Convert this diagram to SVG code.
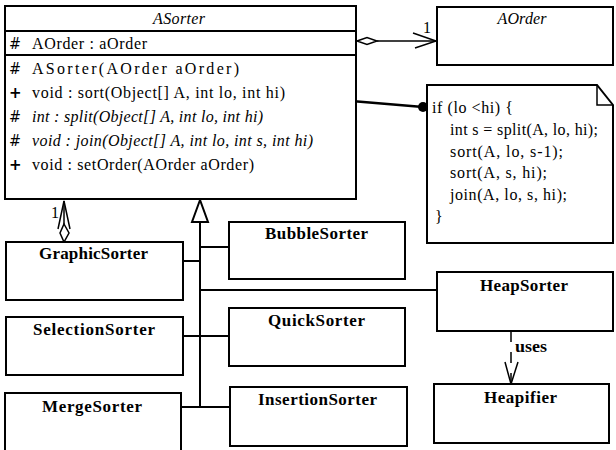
<svg xmlns="http://www.w3.org/2000/svg" width="616" height="450" viewBox="0 0 616 450">
  <style>
    .box { fill: #fff; stroke: #000; stroke-width: 2; }
    .ln { fill: none; stroke: #000; stroke-width: 2; }
    .thin { fill: none; stroke: #000; stroke-width: 1.5; }
    text { font-family: 'Liberation Serif', 'Times New Roman', Times, serif; fill: #000; }
    .m { font-size: 16px; }
    .it { font-style: italic; }
    .sym { font-family: 'DejaVu Sans', sans-serif; font-size: 15px; }
    .cn { font-size: 17px; font-weight: bold; text-anchor: middle; }
  </style>

  <!-- connectors -->
  <g id="connectors">
    <!-- ASorter aggregates AOrder -->
    <line class="thin" x1="377" y1="41" x2="436" y2="41"/>
    <polygon class="thin" points="357,41 367,37.5 377,41 367,44.5" fill="#fff"/>
    <polyline class="thin" points="413,33 436,41 415,48"/>
    <text class="m" x="423" y="33" font-size="13">1</text>

    <!-- GraphicSorter aggregates ASorter -->
    <line class="thin" x1="64" y1="201" x2="64" y2="224"/>
    <polyline class="thin" points="58,229 64,201 70,229"/>
    <polygon class="thin" points="64,224 69,233 64,242 60,233" fill="#fff"/>
    <text class="m" x="51" y="218" font-size="13">1</text>

    <!-- generalization tree -->
    <polygon class="ln" points="200,200 192,222 208,222" fill="#fff"/>
    <line class="ln" x1="200" y1="222" x2="200" y2="407"/>
    <line class="ln" x1="200" y1="247" x2="229" y2="247"/>
    <line class="ln" x1="183" y1="261" x2="200" y2="261"/>
    <line class="ln" x1="200" y1="290" x2="437" y2="290"/>
    <line class="ln" x1="183" y1="336" x2="229" y2="336"/>
    <line class="ln" x1="181" y1="407" x2="230" y2="407"/>

    <!-- note attachment -->
    <line x1="292" y1="96" x2="423" y2="107" stroke="#000" stroke-width="2.5"/>
    <circle cx="292" cy="96" r="5"/>
    <circle cx="423" cy="107" r="5"/>

    <!-- HeapSorter uses Heapifier -->
    <line class="thin" x1="511" y1="331" x2="511" y2="383" stroke-dasharray="11 10"/>
    <polyline class="thin" points="505,362 511,384 518,362"/>
    <text x="515" y="352" font-size="16" font-weight="bold" textLength="32" lengthAdjust="spacingAndGlyphs">uses</text>
  </g>

  <!-- abstract sorter class -->
  <g id="ASorter">
    <rect class="box" x="5" y="6" width="351" height="193"/>
    <line class="ln" x1="5" y1="31" x2="356" y2="31"/>
    <line class="ln" x1="5" y1="55" x2="356" y2="55"/>
    <text class="m it" x="179" y="24" text-anchor="middle" textLength="52">ASorter</text>

    <text class="sym" x="9" y="49" textLength="12" lengthAdjust="spacingAndGlyphs">#</text>
    <text class="m" x="32" y="49" textLength="115">AOrder : aOrder</text>

    <text class="sym" x="9" y="74" textLength="12" lengthAdjust="spacingAndGlyphs">#</text>
    <text class="m" x="32" y="74" textLength="207">ASorter(AOrder aOrder)</text>

    <text class="sym" x="9" y="98" font-weight="bold">+</text>
    <text class="m" x="32" y="98" textLength="253">void : sort(Object[] A, int lo, int hi)</text>

    <text class="sym" x="9" y="122" textLength="12" lengthAdjust="spacingAndGlyphs">#</text>
    <text class="m it" x="32" y="122" textLength="231">int : split(Object[] A, int lo, int hi)</text>

    <text class="sym" x="9" y="146" textLength="12" lengthAdjust="spacingAndGlyphs">#</text>
    <text class="m it" x="32" y="146" textLength="281">void : join(Object[] A, int lo, int s, int hi)</text>

    <text class="sym" x="9" y="170" font-weight="bold">+</text>
    <text class="m" x="32" y="170" textLength="222">void : setOrder(AOrder aOrder)</text>
  </g>

  <g id="AOrder">
    <rect class="box" x="437" y="7" width="176" height="58"/>
    <text class="m it" x="522" y="24" text-anchor="middle" textLength="49">AOrder</text>
  </g>

  <!-- note with sort() body -->
  <g id="note">
    <path class="box" d="M427,85 H597 L613,105 V243 H427 Z"/>
    <path class="thin" d="M597,85 V105 H613"/>
    <text class="m" x="432" y="113" textLength="81">if (lo &lt;hi) {</text>
    <text class="m" x="450" y="135" textLength="148">int s = split(A, lo, hi);</text>
    <text class="m" x="450" y="157" textLength="113">sort(A, lo, s-1);</text>
    <text class="m" x="450" y="178" textLength="97">sort(A, s, hi);</text>
    <text class="m" x="450" y="200" textLength="117">join(A, lo, s, hi);</text>
    <text class="m" x="435" y="222">}</text>
  </g>

  <g id="GraphicSorter">
    <rect class="box" x="6" y="242" width="177" height="58"/>
    <text class="cn" x="93.5" y="259" textLength="109">GraphicSorter</text>
  </g>

  <g id="SelectionSorter">
    <rect class="box" x="6" y="317" width="177" height="58"/>
    <text class="cn" x="94" y="335" textLength="122">SelectionSorter</text>
  </g>

  <g id="MergeSorter">
    <rect class="box" x="5" y="393" width="176" height="70"/>
    <text class="cn" x="92" y="412" textLength="100">MergeSorter</text>
  </g>

  <g id="BubbleSorter">
    <rect class="box" x="229" y="222" width="176" height="57"/>
    <text class="cn" x="316.5" y="239" textLength="103">BubbleSorter</text>
  </g>

  <g id="QuickSorter">
    <rect class="box" x="229" y="308" width="176" height="58"/>
    <text class="cn" x="316.5" y="326" textLength="97">QuickSorter</text>
  </g>

  <g id="InsertionSorter">
    <rect class="box" x="230" y="387" width="177" height="59"/>
    <text class="cn" x="317.5" y="405" textLength="119">InsertionSorter</text>
  </g>

  <g id="HeapSorter">
    <rect class="box" x="437" y="272" width="176" height="59"/>
    <text class="cn" x="524" y="291" textLength="88">HeapSorter</text>
  </g>

  <g id="Heapifier">
    <rect class="box" x="434" y="384" width="175" height="59"/>
    <text class="cn" x="520.5" y="403" textLength="73">Heapifier</text>
  </g>
</svg>
